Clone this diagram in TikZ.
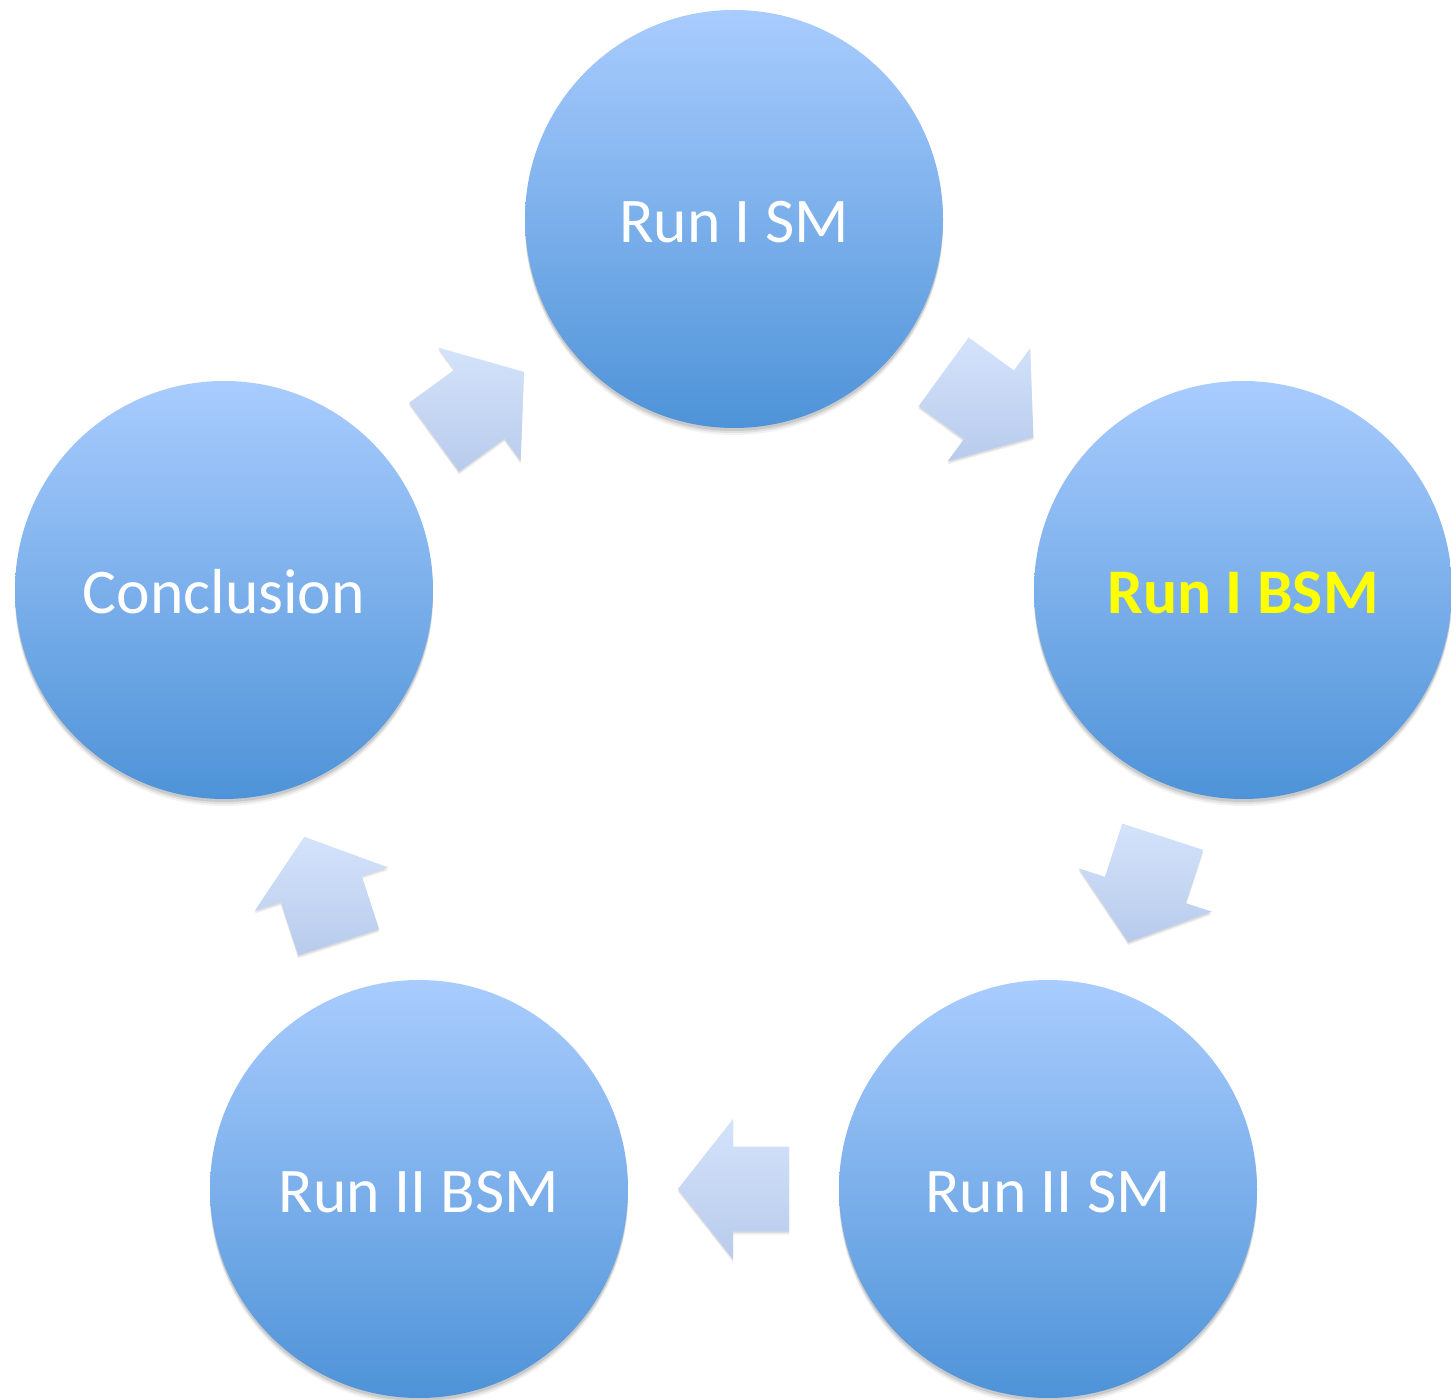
\documentclass[tikz,border=0pt]{standalone}
\usepackage{fontspec}
\setmainfont{Carlito}
\usetikzlibrary{calc}
\definecolor{cTop}{HTML}{A9CCFE}
\definecolor{cBot}{HTML}{4E93D8}
\definecolor{aTop}{HTML}{D4E3FB}
\definecolor{aBot}{HTML}{B8CBEC}
\definecolor{hiYellow}{HTML}{FFFF00}
\newcommand\cyclearrow[2]{%
  \path[arrowblock] let \p1=($(#2.center)-(#1.center)$), \n1={atan2(\y1,\x1)}, \p2=($(#1.center)!0.5!(#2.center)$) in
    ($(\p2)+(\n1:55.5)$) -- ($(\p2)+(\n1:0.5)+(\n1+90:70)$) -- ($(\p2)+(\n1:0.5)+(\n1+90:42.5)$)
    -- ($(\p2)+(\n1:-55.5)+(\n1+90:42.5)$) -- ($(\p2)+(\n1:-55.5)+(\n1-90:42.5)$)
    -- ($(\p2)+(\n1:0.5)+(\n1-90:42.5)$) -- ($(\p2)+(\n1:0.5)+(\n1-90:70)$) -- cycle;}
\begin{document}
\begin{tikzpicture}[x=0.5pt,y=0.5pt,
  stage/.style={circle, minimum size=209pt, inner sep=0pt, top color=cTop, bottom color=cBot,
    text=white, font=\fontsize{31.8}{37}\selectfont, text height=23.5pt, text depth=0pt,
    preaction={fill=black, fill opacity=0.05, transform canvas={yshift=-3.5pt}},
    preaction={fill=black, fill opacity=0.07, transform canvas={yshift=-2.5pt}},
    preaction={fill=black, fill opacity=0.10, transform canvas={yshift=-1.5pt}}},
  arrowblock/.style={top color=aTop, bottom color=aBot,
    preaction={fill=black, fill opacity=0.06, transform canvas={yshift=-1.5pt}},
    preaction={fill=black, fill opacity=0.08, transform canvas={yshift=-0.8pt}}}
]
\fill[white] (0,0) rectangle (1451,1399);
\useasboundingbox (0,0) rectangle (1451,1399);
\node[stage] (s1) at (734,1180) {Run I SM};
\node[stage, text=hiYellow, font=\fontsize{31.8}{37}\selectfont\bfseries] (s2) at (1243,809) {Run I BSM};
\node[stage] (s3) at (1048,210) {Run II SM};
\node[stage] (s4) at (419,210) {Run II BSM};
\node[stage] (s5) at (224,809) {Conclusion};
\cyclearrow{s1}{s2}
\cyclearrow{s2}{s3}
\cyclearrow{s3}{s4}
\cyclearrow{s4}{s5}
\cyclearrow{s5}{s1}
\end{tikzpicture}
\end{document}
